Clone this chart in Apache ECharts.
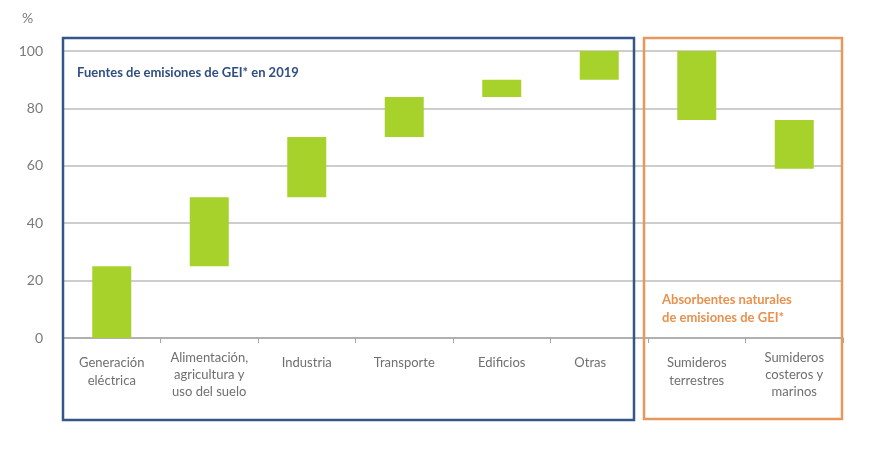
<!DOCTYPE html>
<html><head><meta charset="utf-8">
<script src="https://cdn.jsdelivr.net/npm/echarts@6/dist/echarts.min.js"></script>
<style>html,body{margin:0;padding:0;background:#fff}#c{width:880px;height:461px}</style>
</head><body><div id="c"></div>
<script>
var categories = ['Generación\neléctrica', 'Alimentación,\nagricultura y\nuso del suelo', 'Industria', 'Transporte', 'Edificios', 'Otras', 'Sumideros\nterrestres', 'Sumideros\ncosteros y\nmarinos'];
var barBottom = [0, 25, 49, 70, 84, 90, 76, 59];
var barTop = [25, 49, 70, 84, 90, 100, 100, 76];
var yTicks = [0, 20, 40, 60, 80, 100];

var heights = barTop.map(function (t, i) { return t - barBottom[i]; });
var FONT = 'Lato, "Open Sans", sans-serif';
var catData = categories.map(function (c) {
  var lines = c.split('\n').length;
  if (lines === 3) return { value: c, textStyle: { lineHeight: 17, padding: [-5, 0, 0, 0] } };
  if (c === 'Otras') return { value: c, textStyle: { padding: [0, 18, 0, 0] } };
  return c;
});
var chart = echarts.init(document.getElementById('c'), null, { renderer: 'canvas' });
chart.setOption({
  animation: false,
  grid: { left: 63, right: 37, top: 51, bottom: 123 },
  xAxis: {
    type: 'category', data: catData,
    axisLine: { lineStyle: { color: '#a6a6a6', width: 1.5 } },
    axisTick: { show: true, length: 5, lineStyle: { color: '#a6a6a6' } },
    axisLabel: { color: '#6f6f6f', fontSize: 13, fontFamily: FONT, lineHeight: 18, margin: 16, verticalAlign: 'top', interval: 0 }
  },
  yAxis: {
    type: 'value', min: 0, max: 100, interval: 20,
    axisLine: { show: false }, axisTick: { show: false },
    axisLabel: { color: '#7a7a7a', fontSize: 14, fontFamily: FONT, margin: 20,
      formatter: function (v) { return yTicks.indexOf(v) >= 0 ? String(v) : ''; } },
    splitLine: { lineStyle: { color: '#bdbdbd', width: 1.5 } }
  },
  series: [
    { type: 'bar', stack: 'w', data: barBottom, itemStyle: { color: 'transparent' }, barWidth: '40%', silent: true },
    { type: 'bar', stack: 'w', data: heights, itemStyle: { color: '#a6d22b' }, barWidth: '40%' }
  ],
  graphic: [
    { type: 'rect', shape: { x: 63, y: 38, width: 571, height: 382 }, style: { fill: 'none', stroke: '#34568b', lineWidth: 2.5 }, z: 100 },
    { type: 'rect', shape: { x: 644, y: 38, width: 198, height: 381 }, style: { fill: 'none', stroke: '#e8975d', lineWidth: 2.5 }, z: 100 },
    { type: 'text', left: 22, top: 11, style: { text: '%', fill: '#7a7a7a', font: '14px ' + FONT } },
    { type: 'text', left: 77, top: 66, style: { text: 'Fuentes de emisiones de GEI* en 2019', fill: '#2f4f80', font: 'bold 13px ' + FONT } },
    { type: 'text', left: 662, top: 291, style: { text: 'Absorbentes naturales\nde emisiones de GEI*', fill: '#e8914f', font: 'bold 13px ' + FONT, lineHeight: 18 } }
  ]
});
</script></body></html>
